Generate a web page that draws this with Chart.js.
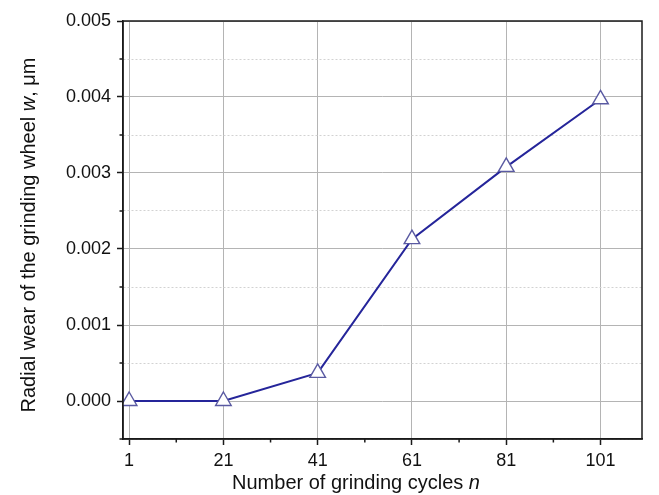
<!DOCTYPE html>
<html>
<head>
<meta charset="utf-8">
<script src="https://cdn.jsdelivr.net/npm/chart.js@4/dist/chart.umd.min.js"></script>
<style>
  html, body { margin: 0; padding: 0; background: #fff; }
  #wrap { width: 659px; height: 495px; }
</style>
</head>
<body>
<div id="wrap"><canvas id="c" width="659" height="495"></canvas></div>
<script>
// Grinding cycles and measured radial wear of the wheel
const cycles = [1, 21, 41, 61, 81, 101];
const wear = [0, 0, 0.00037, 0.00213, 0.00308, 0.00397];

// Axis ticks
const xMajorTicks = [1, 21, 41, 61, 81, 101];
const xMinorTicks = [11, 31, 51, 71, 91];
const xTickLabels = ['1', '21', '41', '61', '81', '101'];
const yMajorTicks = [0, 0.001, 0.002, 0.003, 0.004, 0.005];
const yMinorTicks = [-0.0005, 0.0005, 0.0015, 0.0025, 0.0035, 0.0045];
const yTickLabels = ['0.000', '0.001', '0.002', '0.003', '0.004', '0.005'];

// Axis titles, split into upright / italic runs
const xTitleParts = [['Number of grinding cycles ', false], ['n', true]];
const yTitleParts = [['Radial wear of the grinding wheel ', false], ['w', true], [', \u03bcm', false]];

const FONT = '"Liberation Sans", Arial, Helvetica, sans-serif';
const AXIS_COLOR = '#1a1a1a';
const MINOR_TICK_LEN = 3.5;

function buildTicks(major, minor) {
  const all = major.map(v => ({ value: v, major: true }))
    .concat(minor.map(v => ({ value: v, major: false })));
  all.sort((a, b) => a.value - b.value);
  return all;
}

function labelFor(value, majors, labels) {
  for (let i = 0; i < majors.length; i++) {
    if (Math.abs(majors[i] - value) < 1e-9) return labels[i];
  }
  return '';
}

function isMajor(ctx) {
  return ctx.tick && ctx.tick.major;
}

// Draw a line of text made of upright and italic runs, centred at (0,0)
function drawRuns(ctx, parts, size) {
  let total = 0;
  const widths = parts.map(([t, it]) => {
    ctx.font = (it ? 'italic ' : '') + size + 'px ' + FONT;
    const w = ctx.measureText(t).width;
    total += w;
    return w;
  });
  let x = -total / 2;
  parts.forEach(([t, it], i) => {
    ctx.font = (it ? 'italic ' : '') + size + 'px ' + FONT;
    ctx.fillText(t, x, 0);
    x += widths[i];
  });
}

const framePlugin = {
  id: 'frameAndTitles',
  afterDraw(chart) {
    const { ctx, chartArea: a, scales } = chart;
    ctx.save();
    // plot frame
    ctx.strokeStyle = AXIS_COLOR;
    ctx.lineWidth = 1.5;
    ctx.strokeRect(a.left, a.top, a.right - a.left, a.bottom - a.top);

    // short minor tick marks, outside the axes
    ctx.beginPath();
    xMinorTicks.forEach(v => {
      const px = scales.x.getPixelForValue(v);
      ctx.moveTo(px, a.bottom);
      ctx.lineTo(px, a.bottom + MINOR_TICK_LEN);
    });
    yMinorTicks.forEach(v => {
      const py = scales.y.getPixelForValue(v);
      ctx.moveTo(a.left, py);
      ctx.lineTo(a.left - MINOR_TICK_LEN, py);
    });
    ctx.stroke();

    // axis titles
    ctx.fillStyle = '#111';
    ctx.textBaseline = 'alphabetic';
    ctx.textAlign = 'left';
    ctx.save();
    ctx.translate(356, 489);
    drawRuns(ctx, xTitleParts, 20);
    ctx.restore();
    ctx.save();
    ctx.translate(35, 235);
    ctx.rotate(-Math.PI / 2);
    drawRuns(ctx, yTitleParts, 20);
    ctx.restore();
    ctx.restore();
  }
};

new Chart(document.getElementById('c'), {
  type: 'scatter',
  data: {
    datasets: [{
      data: cycles.map((c, i) => ({ x: c, y: wear[i] })),
      showLine: true,
      borderColor: '#25259a',
      borderWidth: 2,
      pointStyle: 'triangle',
      pointRadius: 9,
      pointHoverRadius: 9,
      pointBackgroundColor: '#ffffff',
      pointBorderColor: '#5a5aa2',
      pointBorderWidth: 1.4,
      tension: 0
    }]
  },
  options: {
    responsive: false,
    animation: false,
    devicePixelRatio: 1,
    layout: { padding: { top: 21, right: 17, left: 0, bottom: 0 } },
    plugins: { legend: { display: false }, tooltip: { enabled: false } },
    scales: {
      x: {
        type: 'linear',
        min: -0.3,
        max: 109.8,
        afterBuildTicks: s => { s.ticks = buildTicks(xMajorTicks, xMinorTicks); },
        afterFit: s => { s.height = 56; },
        ticks: {
          autoSkip: false,
          maxRotation: 0,
          padding: 5,
          color: '#111',
          font: { family: FONT, size: 18 },
          callback: v => labelFor(v, xMajorTicks, xTickLabels)
        },
        grid: {
          color: c => isMajor(c) ? '#b4b4b4' : 'rgba(0,0,0,0)',
          lineWidth: 1,
          tickColor: c => isMajor(c) ? AXIS_COLOR : 'rgba(0,0,0,0)',
          tickLength: 6,
          tickWidth: 1.5
        },
        border: { display: true, color: AXIS_COLOR, width: 1.5 }
      },
      y: {
        type: 'linear',
        min: -0.0005,
        max: 0.005,
        afterBuildTicks: s => { s.ticks = buildTicks(yMajorTicks, yMinorTicks); },
        afterFit: s => { s.width = 123; },
        ticks: {
          autoSkip: false,
          padding: 6,
          color: '#111',
          font: { family: FONT, size: 18 },
          callback: v => labelFor(v, yMajorTicks, yTickLabels)
        },
        grid: {
          color: c => isMajor(c) ? '#b4b4b4' : '#d2d2d2',
          lineWidth: 1,
          tickColor: c => isMajor(c) ? AXIS_COLOR : 'rgba(0,0,0,0)',
          tickLength: 6,
          tickWidth: 1.5
        },
        border: {
          display: true,
          color: AXIS_COLOR,
          width: 1.5,
          dash: c => isMajor(c) ? [] : [2, 2]
        }
      }
    }
  },
  plugins: [framePlugin]
});
</script>
</body>
</html>
